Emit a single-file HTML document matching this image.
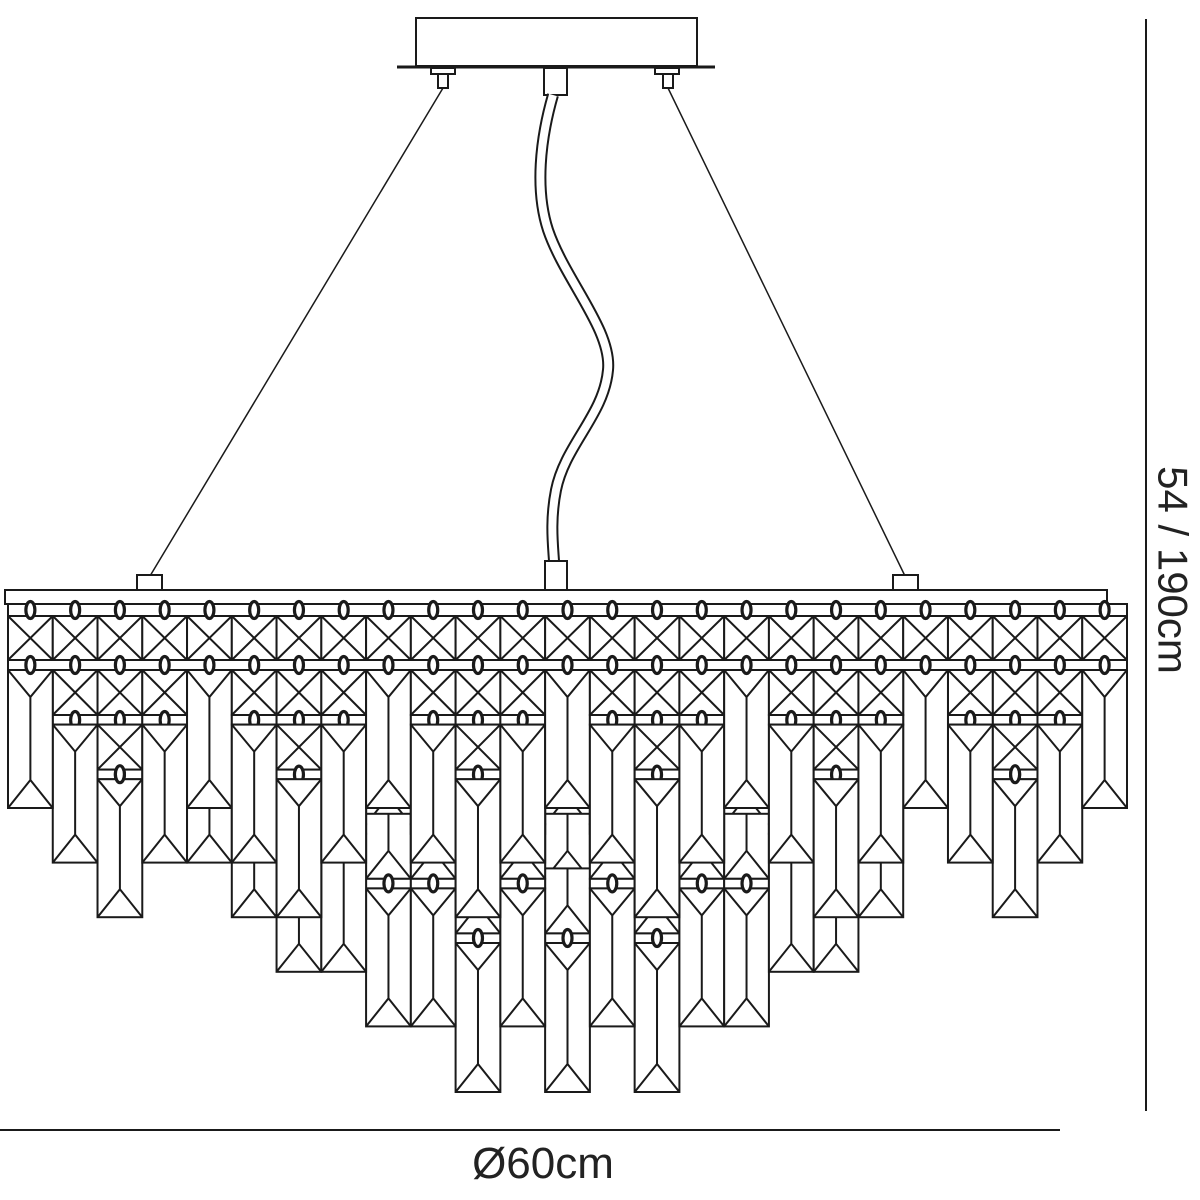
<!DOCTYPE html>
<html><head><meta charset="utf-8"><style>html,body{margin:0;padding:0;background:#fff;width:1200px;height:1200px;overflow:hidden}</style></head>
<body>
<svg id="s" xmlns="http://www.w3.org/2000/svg" width="1200" height="1200" viewBox="0 0 1200 1200">
<g fill="none" stroke="#1a1a1a" stroke-width="2">
<rect x="416" y="18" width="281" height="48" fill="#fff"/>
<line x1="397" y1="67" x2="715" y2="67" stroke-width="3"/>
<path d="M431 68h24v6h-24zM438 74h10v14h-10zM655 68h24v6h-24zM663 74h10v14h-10z"/>
<rect x="544" y="68" width="23" height="27"/>
<line x1="443" y1="88" x2="150" y2="576" stroke-width="1.5"/>
<line x1="668" y1="88" x2="905" y2="576" stroke-width="1.5"/>
<path d="M553 95 C540 140 535 190 548 230 C565 280 612 330 608 370 C604 415 565 445 556 490 C550 520 553 545 554 561" stroke-width="12" stroke="#1a1a1a"/>
<path d="M553 95 C540 140 535 190 548 230 C565 280 612 330 608 370 C604 415 565 445 556 490 C550 520 553 545 554 561" stroke-width="8" stroke="#fff"/>
<rect x="545" y="561" width="22" height="29" fill="#fff"/>
<rect x="137" y="575" width="25" height="15" fill="#fff"/>
<rect x="893" y="575" width="25" height="15" fill="#fff"/>
<rect x="5" y="590" width="1102" height="14" fill="#fff"/>
<line x1="1146" y1="19" x2="1146" y2="1111" stroke-width="2"/>
<line x1="0" y1="1130" x2="1060" y2="1130" stroke-width="2"/>
<g id="ch"></g>
</g>
<text x="543" y="1178" font-family="Liberation Sans, sans-serif" font-size="44" text-anchor="middle" fill="#222">Ø60cm</text>
<text transform="translate(1173,570) rotate(90)" font-family="Liberation Sans, sans-serif" font-size="42" text-anchor="middle" dominant-baseline="central" fill="#222">54 / 190cm</text>
</svg>
<script>
(function(){
var g=document.getElementById('ch');var o='';var beads='';
var W=44.76,X0=8,N=25,S=54.6;
var d=[0,1,2,1,1,2,3,3,4,4,5,4,5,4,5,4,4,3,3,2,0,1,2,1,0];
function bead(cx,cy){return '<ellipse cx="'+cx+'" cy="'+cy+'" rx="4.5" ry="8.5" stroke-width="3.2" fill="#fff"/>';}
function xcell(x,y,w,h){return '<rect x="'+x+'" y="'+y+'" width="'+w+'" height="'+h+'" fill="#fff"/><path d="M'+x+' '+y+'L'+(x+w)+' '+(y+h)+'M'+(x+w)+' '+y+'L'+x+' '+(y+h)+'"/>';}
function drop(x,y,w,h){var cx=x+w/2;return '<rect x="'+x+'" y="'+y+'" width="'+w+'" height="'+h+'" fill="#fff"/><path d="M'+x+' '+y+'L'+cx+' '+(y+27)+'L'+(x+w)+' '+y+'M'+cx+' '+(y+27)+'V'+(y+h-28)+'M'+x+' '+(y+h)+'L'+cx+' '+(y+h-28)+'L'+(x+w)+' '+(y+h)+'"/>';}
function seg(x,y,w,h){var cx=x+w/2;return '<rect x="'+x+'" y="'+y+'" width="'+w+'" height="'+h+'" fill="#fff"/><path d="M'+cx+' '+y+'V'+(y+h-28)+'M'+x+' '+(y+h)+'L'+cx+' '+(y+h-28)+'L'+(x+w)+' '+(y+h)+'"/>';}
var R=X0+N*W;
o+='<rect x="'+X0+'" y="604" width="'+(R-X0)+'" height="12" fill="#fff"/>';
o+='<rect x="'+X0+'" y="660" width="'+(R-X0)+'" height="10" fill="#fff"/>';
for(var k=0;k<N;k++){var x=X0+k*W,cx=x+W/2;
 o+=xcell(x,616,W,44);beads+=bead(cx,610);beads+=bead(cx,665);}
var order=[];for(k=0;k<N;k++)order.push(k);
order.sort(function(a,b){return d[b]-d[a];});
for(var i=0;i<N;i++){k=order[i];var x=X0+k*W,cx=x+W/2;
 for(var j=0;j<d[k];j++){var y=670+S*j;
  if(j<2) o+=xcell(x,y,W,45); else o+=seg(x,y-20,W,65);
  o+='<rect x="'+x+'" y="'+(y+45)+'" width="'+W+'" height="9.6" fill="#fff"/>';
  if(j<2) o+=bead(cx,y+50);}
 var top=670+S*d[k];var h=138;if(d[k]==5)h=1092-top;
 o+=drop(x,top,W,h);
 if(d[k]>=2) o+=bead(cx,top-5);}
var fp=[0,1,2,1];
for(k=0;k<N;k++){var f=fp[k%4];if(f<d[k]){var x=X0+k*W,cx=x+W/2;var t=670+S*f;
 for(var j=0;j<f;j++){o+=xcell(x,670+S*j,W,45);o+='<rect x="'+x+'" y="'+(670+S*j+45)+'" width="'+W+'" height="9.6" fill="#fff"/>'+bead(cx,670+S*j+50);}
 o+=drop(x,t,W,138);}}
g.innerHTML=o+beads;
})();
</script>
</body></html>
